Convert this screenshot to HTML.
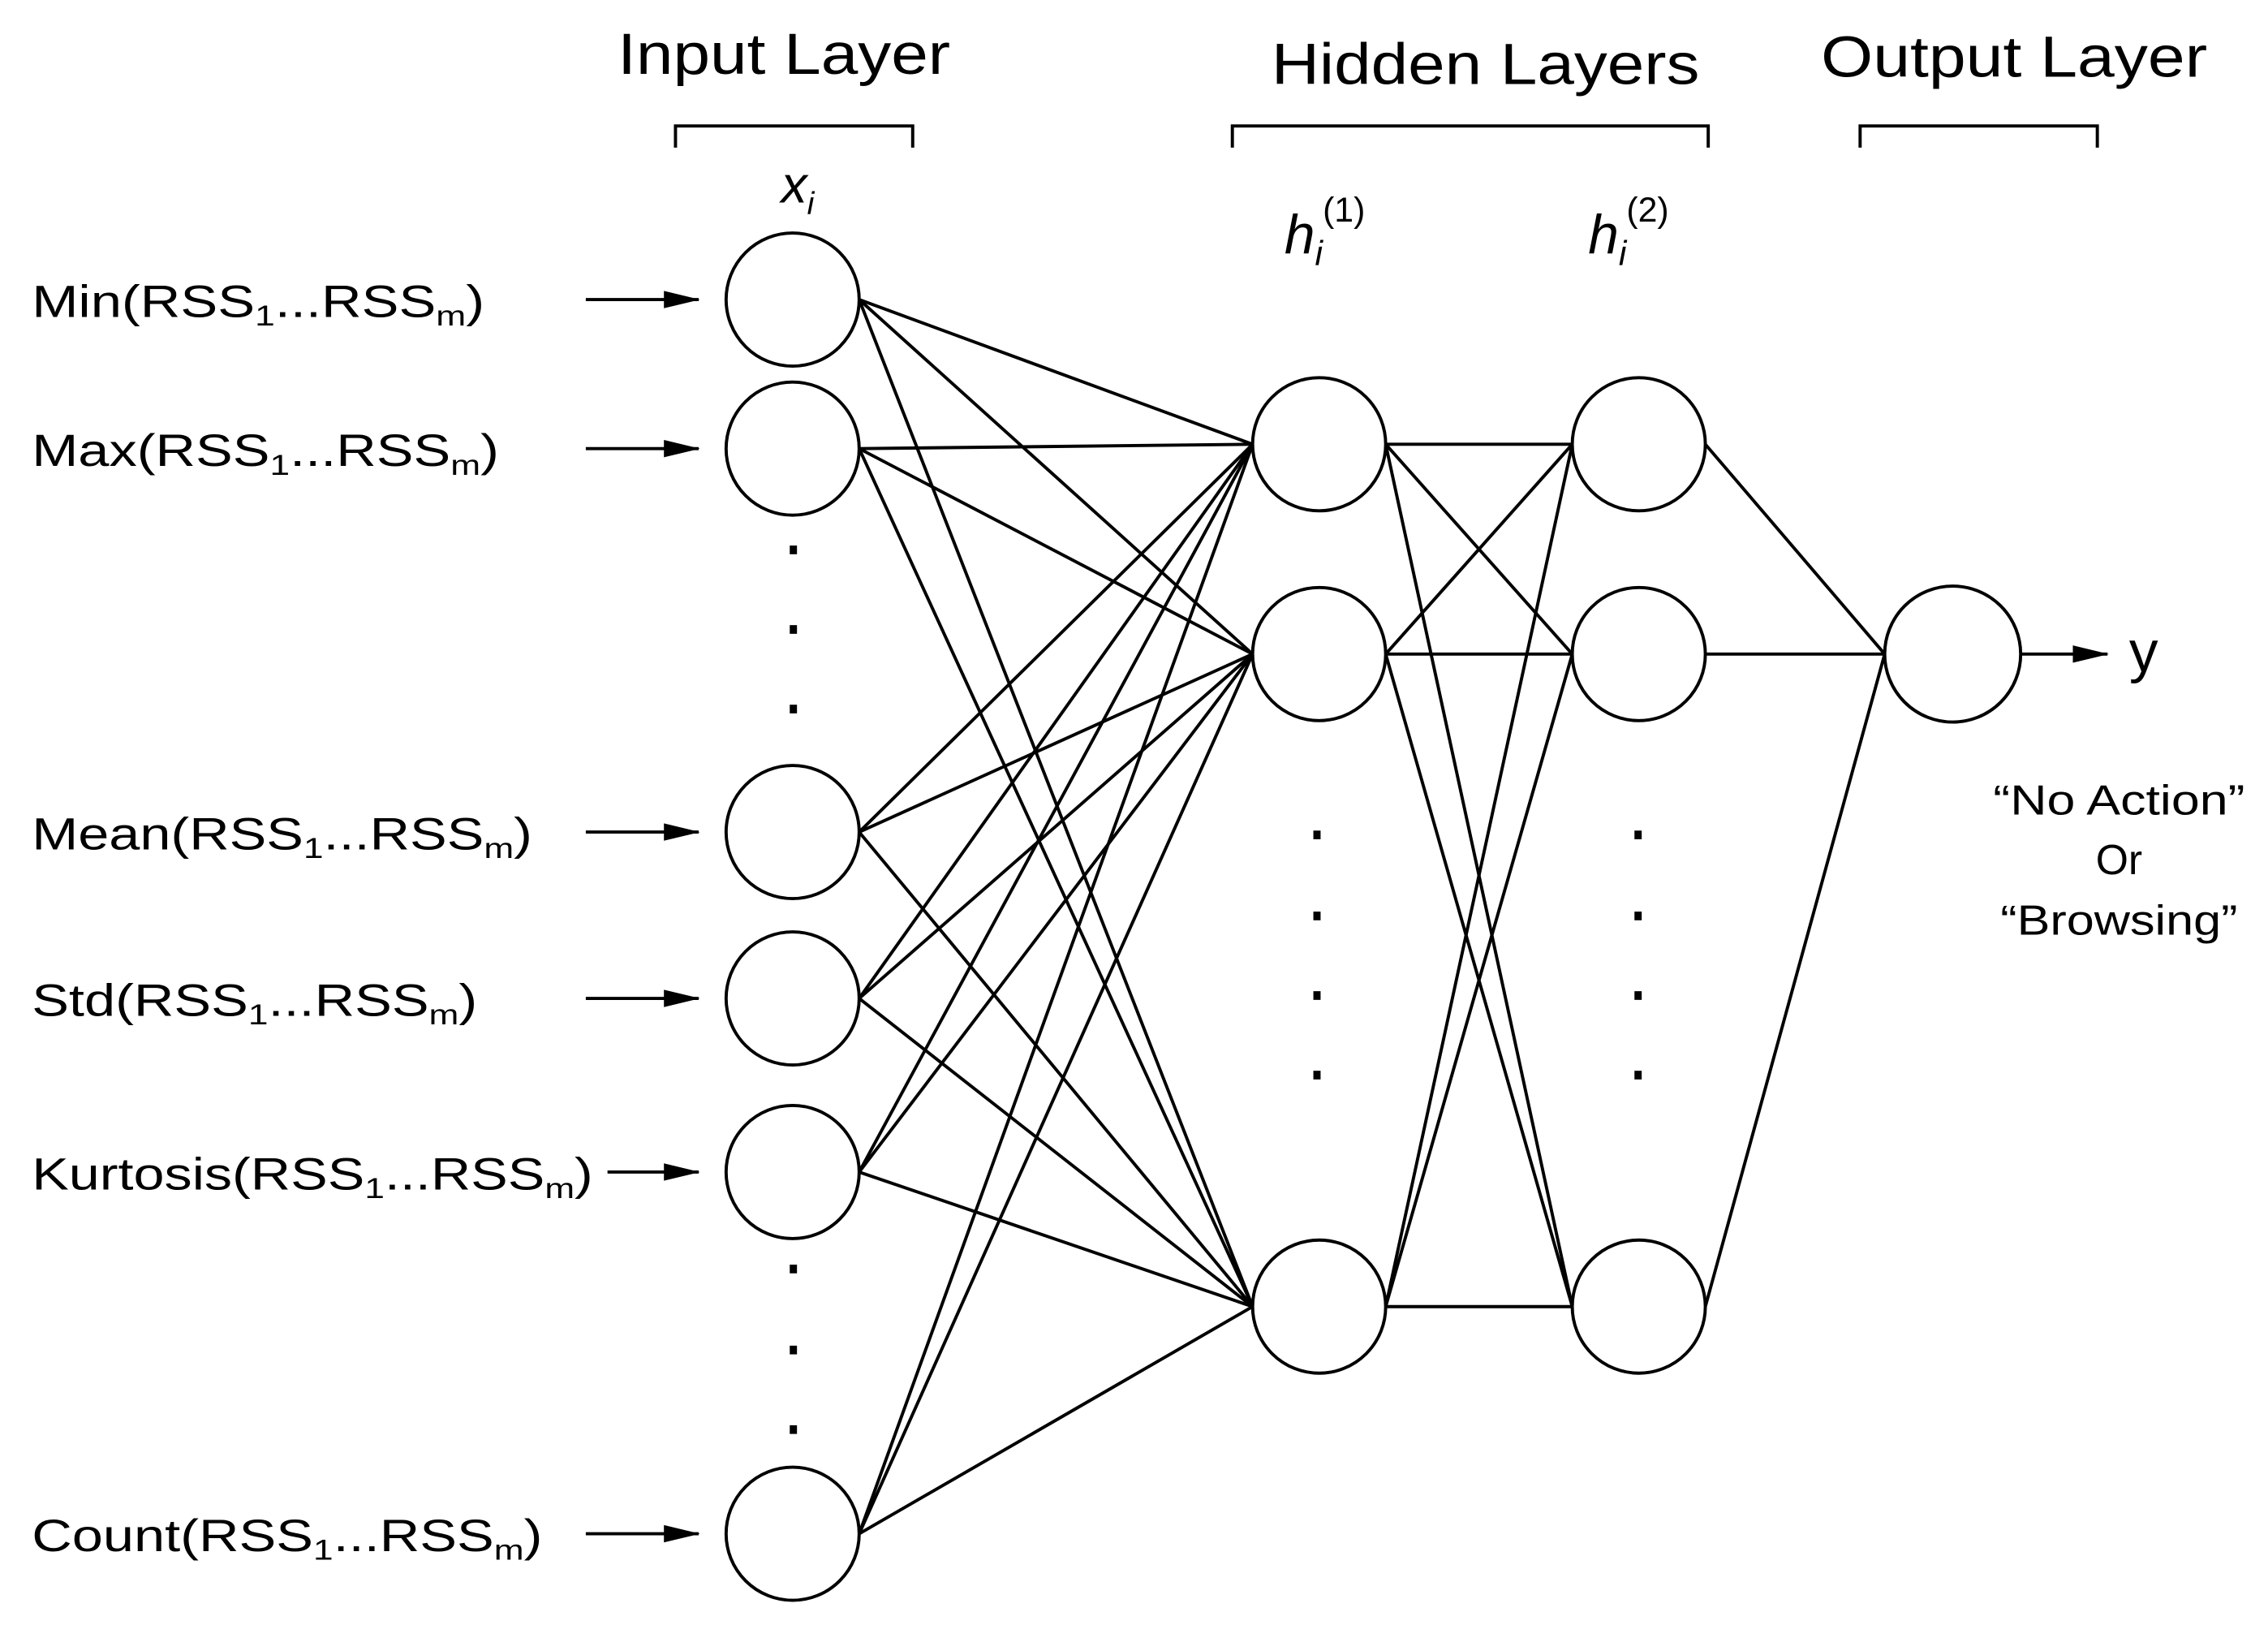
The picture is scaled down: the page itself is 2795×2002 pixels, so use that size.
<!DOCTYPE html>
<html><head><meta charset="utf-8"><style>
html,body{margin:0;padding:0;background:#fff;}
svg{display:block;}
text{font-family:"Liberation Sans",sans-serif;fill:#000;}
</style></head><body>
<svg width="2795" height="2002" viewBox="0 0 1568 1123" xmlns="http://www.w3.org/2000/svg">
<defs><marker id="ah" markerWidth="26" markerHeight="14" refX="24" refY="7" orient="auto" markerUnits="userSpaceOnUse"><path d="M0,1 L25,7 L0,13z"/></marker></defs>
<g stroke="#000" stroke-width="2.2" fill="none">
<line x1="594" y1="207" x2="866" y2="307"/><line x1="594" y1="207" x2="866" y2="452"/><line x1="594" y1="207" x2="866" y2="903"/>
<line x1="594" y1="310" x2="866" y2="307"/><line x1="594" y1="310" x2="866" y2="452"/><line x1="594" y1="310" x2="866" y2="903"/>
<line x1="594" y1="575" x2="866" y2="307"/><line x1="594" y1="575" x2="866" y2="452"/><line x1="594" y1="575" x2="866" y2="903"/>
<line x1="594" y1="690" x2="866" y2="307"/><line x1="594" y1="690" x2="866" y2="452"/><line x1="594" y1="690" x2="866" y2="903"/>
<line x1="594" y1="810" x2="866" y2="307"/><line x1="594" y1="810" x2="866" y2="452"/><line x1="594" y1="810" x2="866" y2="903"/>
<line x1="594" y1="1060" x2="866" y2="307"/><line x1="594" y1="1060" x2="866" y2="452"/><line x1="594" y1="1060" x2="866" y2="903"/>
<line x1="958" y1="307" x2="1087" y2="307"/><line x1="958" y1="307" x2="1087" y2="452"/><line x1="958" y1="307" x2="1087" y2="903"/>
<line x1="958" y1="452" x2="1087" y2="307"/><line x1="958" y1="452" x2="1087" y2="452"/><line x1="958" y1="452" x2="1087" y2="903"/>
<line x1="958" y1="903" x2="1087" y2="307"/><line x1="958" y1="903" x2="1087" y2="452"/><line x1="958" y1="903" x2="1087" y2="903"/>
<line x1="1179" y1="307" x2="1303" y2="452"/><line x1="1179" y1="452" x2="1303" y2="452"/><line x1="1179" y1="903" x2="1303" y2="452"/>
<g fill="#fff">
<circle cx="548" cy="207" r="46"/><circle cx="548" cy="310" r="46"/><circle cx="548" cy="575" r="46"/>
<circle cx="548" cy="690" r="46"/><circle cx="548" cy="810" r="46"/><circle cx="548" cy="1060" r="46"/>
<circle cx="912" cy="307" r="46"/><circle cx="912" cy="452" r="46"/><circle cx="912" cy="903" r="46"/>
<circle cx="1133" cy="307" r="46"/><circle cx="1133" cy="452" r="46"/><circle cx="1133" cy="903" r="46"/>
<circle cx="1350" cy="452" r="47"/>
</g>
<path d="M467,102 V87 H631 V102"/><path d="M852,102 V87 H1181 V102"/><path d="M1286,102 V87 H1450 V102"/>
<line x1="405" y1="207" x2="483" y2="207" marker-end="url(#ah)"/>
<line x1="405" y1="310" x2="483" y2="310" marker-end="url(#ah)"/>
<line x1="405" y1="575" x2="483" y2="575" marker-end="url(#ah)"/>
<line x1="405" y1="690" x2="483" y2="690" marker-end="url(#ah)"/>
<line x1="420" y1="810" x2="483" y2="810" marker-end="url(#ah)"/>
<line x1="405" y1="1060" x2="483" y2="1060" marker-end="url(#ah)"/>
<line x1="1397" y1="452" x2="1457" y2="452" marker-end="url(#ah)"/>
</g>
<g fill="#000">
<rect x="546" y="377" width="5" height="6"/><rect x="546" y="432" width="5" height="6"/><rect x="546" y="487" width="5" height="6"/>
<rect x="546" y="874" width="5" height="6"/><rect x="546" y="930" width="5" height="6"/><rect x="546" y="985" width="5" height="6"/>
<rect x="908" y="574" width="5" height="6"/><rect x="908" y="630" width="5" height="6"/><rect x="908" y="685" width="5" height="6"/><rect x="908" y="740" width="5" height="6"/>
<rect x="1130" y="574" width="5" height="6"/><rect x="1130" y="630" width="5" height="6"/><rect x="1130" y="685" width="5" height="6"/><rect x="1130" y="740" width="5" height="6"/>
</g>
<g font-size="40">
<text x="427" y="51" textLength="230" lengthAdjust="spacingAndGlyphs">Input Layer</text>
<text x="879" y="58" textLength="296" lengthAdjust="spacingAndGlyphs">Hidden Layers</text>
<text x="1259" y="53" textLength="267" lengthAdjust="spacingAndGlyphs">Output Layer</text>
</g>
<text x="540" y="140" font-size="36" font-style="italic" font-family="Liberation Serif,serif">x<tspan font-size="22" dy="8">i</tspan></text>
<text x="888" y="175" font-size="38" font-style="italic" font-family="Liberation Serif,serif">h<tspan font-size="24" dy="8">i</tspan><tspan font-size="24" dy="-30" font-style="normal">(1)</tspan></text>
<text x="1098" y="175" font-size="38" font-style="italic" font-family="Liberation Serif,serif">h<tspan font-size="24" dy="8">i</tspan><tspan font-size="24" dy="-30" font-style="normal">(2)</tspan></text>
<g font-size="31">
<text x="22" y="219" textLength="313" lengthAdjust="spacingAndGlyphs">Min(RSS<tspan font-size="20" dy="6">1</tspan><tspan dy="-6">...RSS</tspan><tspan font-size="20" dy="6">m</tspan><tspan dy="-6">)</tspan></text>
<text x="22" y="322" textLength="323" lengthAdjust="spacingAndGlyphs">Max(RSS<tspan font-size="20" dy="6">1</tspan><tspan dy="-6">...RSS</tspan><tspan font-size="20" dy="6">m</tspan><tspan dy="-6">)</tspan></text>
<text x="22" y="587" textLength="346" lengthAdjust="spacingAndGlyphs">Mean(RSS<tspan font-size="20" dy="6">1</tspan><tspan dy="-6">...RSS</tspan><tspan font-size="20" dy="6">m</tspan><tspan dy="-6">)</tspan></text>
<text x="22" y="702" textLength="308" lengthAdjust="spacingAndGlyphs">Std(RSS<tspan font-size="20" dy="6">1</tspan><tspan dy="-6">...RSS</tspan><tspan font-size="20" dy="6">m</tspan><tspan dy="-6">)</tspan></text>
<text x="22" y="822" textLength="388" lengthAdjust="spacingAndGlyphs">Kurtosis(RSS<tspan font-size="20" dy="6">1</tspan><tspan dy="-6">...RSS</tspan><tspan font-size="20" dy="6">m</tspan><tspan dy="-6">)</tspan></text>
<text x="22" y="1072" textLength="353" lengthAdjust="spacingAndGlyphs">Count(RSS<tspan font-size="20" dy="6">1</tspan><tspan dy="-6">...RSS</tspan><tspan font-size="20" dy="6">m</tspan><tspan dy="-6">)</tspan></text>
<text x="1472" y="464" font-size="40">y</text>
<g font-size="29">
<text x="1378" y="563" textLength="174" lengthAdjust="spacingAndGlyphs">“No Action”</text>
<text x="1465" y="604" text-anchor="middle">Or</text>
<text x="1383" y="646" textLength="164" lengthAdjust="spacingAndGlyphs">“Browsing”</text>
</g>
</g>
</svg>
</body></html>
